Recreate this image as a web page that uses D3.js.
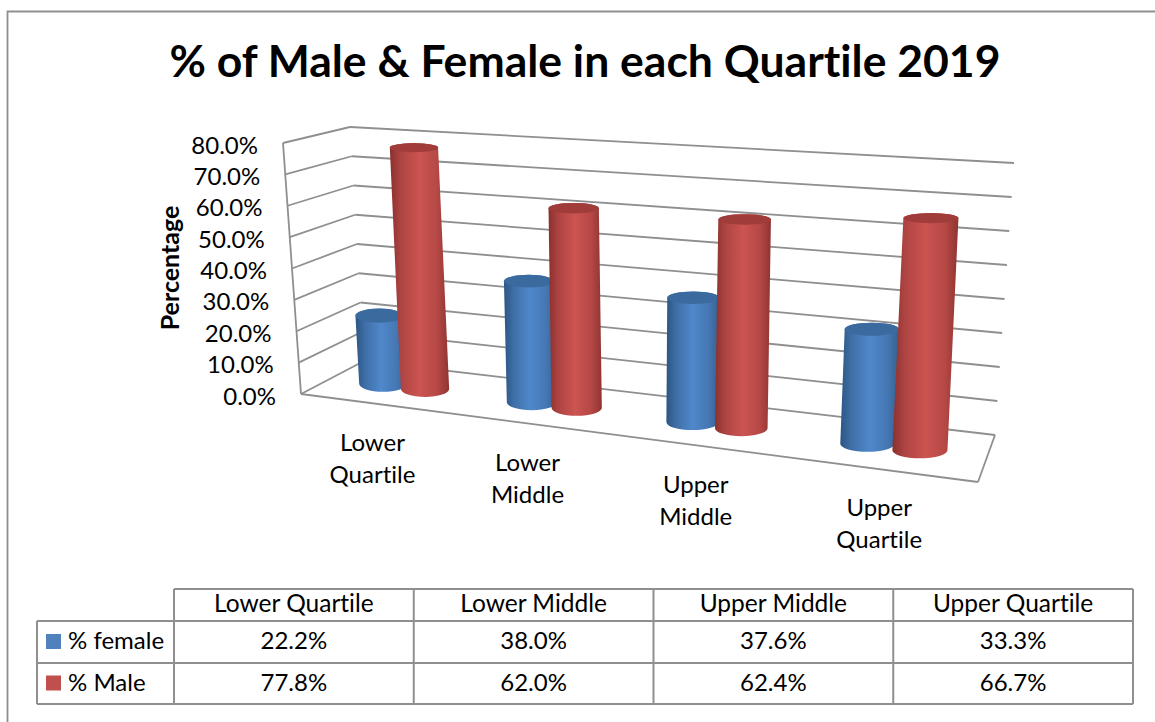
<!DOCTYPE html>
<html>
<head>
<meta charset="utf-8">
<script src="https://cdn.jsdelivr.net/npm/d3@7"></script>
<style>
  html, body { margin: 0; padding: 0; background: #fff; }
  svg { display: block; }
  text { font-family: Lato, "Open Sans", sans-serif; fill: #000; font-variant-ligatures: none; }
</style>
</head>
<body>
<svg id="chart" width="1155" height="722"></svg>
<script>
const categories = ['Lower Quartile', 'Lower Middle', 'Upper Middle', 'Upper Quartile'];
const seriesNames = ['% female', '% Male'];
const female = [22.2, 38.0, 37.6, 33.3];
const male = [77.8, 62.0, 62.4, 66.7];
const yTicks = [0, 10, 20, 30, 40, 50, 60, 70, 80];
const seriesValues = [female, male];

const gridColour = '#8f8f8f';
const svg = d3.select('#chart');
const fmt = d => d.toFixed(1) + '%';

// corners of the 3d box as they land on the page
const corners = {
  floor: { fl: [301, 394], fr: [978, 482], bl: [364, 361], br: [995, 435] },
  top: { fl: [283, 143], fr: [992, 189], bl: [350, 127], br: [1014, 163] }
};

const lerp = (a, b, t) => [a[0] + (b[0] - a[0]) * t, a[1] + (b[1] - a[1]) * t];
const yScale = d3.scaleLinear().domain([0, 80]).range([0, 1]);
// foreshortening along the category axis
const warp = d3.scaleLinear()
  .domain([0, 0.125, 0.375, 0.625, 0.875, 1])
  .range([0, 0.1085, 0.3376, 0.586, 0.857, 1]);
const xCat = d3.scaleBand().domain(categories).range([0, 1]);
const xSeries = d3.scaleBand().domain(seriesNames).range([-0.072, 0.072]);
const radius = d3.scaleLinear().domain([0, 1]).range([23.5, 28]);
const capRy = d3.scaleLinear().domain([0, 80]).range([8, 4.5]);

const project = (u, v, z) => {
  const level = c => lerp(lerp(c.fl, c.fr, u), lerp(c.bl, c.br, u), z);
  return lerp(level(corners.floor), level(corners.top), yScale(v));
};

// gradients for the cylinders
const defs = svg.append('defs');
const gradient = (id, stops) => {
  const g = defs.append('linearGradient').attr('id', id);
  stops.forEach(s => g.append('stop').attr('offset', s[0]).attr('stop-color', s[1]));
};
gradient('bar0', [[0, '#2c5583'], [0.18, '#3e6ea6'], [0.5, '#5088cb'], [0.8, '#4577b3'], [1, '#34618f']]);
gradient('bar1', [[0, '#8a302e'], [0.18, '#ad4442'], [0.5, '#cc5451'], [0.8, '#b54845'], [1, '#8f3432']]);
const capColours = ['#3b6a9f', '#a03d3b'];

const plot = svg.append('g');

const line = (g, a, b, w) => g.append('line')
  .attr('x1', a[0]).attr('y1', a[1]).attr('x2', b[0]).attr('y2', b[1])
  .attr('stroke', gridColour).attr('stroke-width', w || 1.8);

// outer frame
svg.append('path')
  .attr('d', `M1155,11.5H7.5V722`)
  .attr('fill', 'none').attr('stroke', gridColour).attr('stroke-width', 1.8);

// walls and floor
yTicks.forEach(v => {
  line(plot, project(0, v, 0), project(0, v, 1));
  line(plot, project(0, v, 1), project(1, v, 1));
});
line(plot, project(0, 0, 0), project(0, 80, 0));
line(plot, project(0, 0, 0), project(1, 0, 0));
line(plot, project(1, 0, 0), project(1, 0, 1));

// cylinders, female first so male sits in front
categories.forEach((cat, i) => {
  seriesNames.forEach((name, s) => {
    const value = seriesValues[s][i];
    const u = warp(xCat(cat) + xCat.bandwidth() / 2 + xSeries(name) + xSeries.bandwidth() / 2);
    const base = project(u, 0, 0.5);
    const top = project(u, value, 0.5);
    const r = radius(u);
    const ryB = capRy(0), ryT = capRy(value);
    plot.append('path')
      .attr('d', `M${top[0] - r},${top[1]}L${base[0] - r},${base[1]}` +
        `A${r},${ryB} 0 0 0 ${base[0] + r},${base[1]}` +
        `L${top[0] + r},${top[1]}` +
        `A${r},${ryT} 0 0 0 ${top[0] - r},${top[1]}Z`)
      .attr('fill', `url(#bar${s})`);
    plot.append('ellipse')
      .attr('cx', top[0]).attr('cy', top[1]).attr('rx', r).attr('ry', ryT)
      .attr('fill', capColours[s]);
  });
});

// title
svg.append('text')
  .attr('x', 585).attr('y', 77).attr('text-anchor', 'middle')
  .attr('font-size', 44.5).attr('font-weight', 700)
  .text('% of Male & Female in each Quartile 2019');

// y tick labels follow the front edge of the wall
yTicks.forEach(v => {
  const p = project(0, v, 0);
  svg.append('text')
    .attr('x', p[0] - 25).attr('y', p[1] + 4.5).attr('text-anchor', 'end')
    .attr('dominant-baseline', 'middle').attr('font-size', 24)
    .text(fmt(v));
});

svg.append('text')
  .attr('transform', 'translate(179,268) rotate(-90)')
  .attr('text-anchor', 'middle').attr('font-size', 25).attr('font-weight', 700)
  .text('Percentage');

// category labels, wrapped on two lines
categories.forEach(cat => {
  const p = project(warp(xCat(cat) + xCat.bandwidth() / 2), 0, 0);
  cat.split(' ').forEach((word, k) => {
    svg.append('text')
      .attr('x', p[0] - 2).attr('y', p[1] + 41 + k * 32)
      .attr('text-anchor', 'middle').attr('dominant-baseline', 'middle')
      .attr('font-size', 24)
      .text(word);
  });
});

// data table
const tableX = d3.scalePoint().domain(d3.range(5)).range([174, 1133]);
const rowY = [589, 621, 663, 704];
const table = svg.append('g');
rowY.forEach((y, r) => line(table, [r === 0 ? 174 : 37, y], [1133, y], 2));
d3.range(5).forEach(c => line(table, [tableX(c), 589], [tableX(c), 704], 2));
line(table, [37, 621], [37, 704], 2);

categories.forEach((cat, c) => {
  const cx = (tableX(c) + tableX(c + 1)) / 2;
  table.append('text')
    .attr('x', cx).attr('y', (rowY[0] + rowY[1]) / 2 + 1)
    .attr('text-anchor', 'middle').attr('dominant-baseline', 'middle').attr('font-size', 24.5)
    .text(cat);
  seriesValues.forEach((vals, s) => {
    table.append('text')
      .attr('x', cx).attr('y', (rowY[s + 1] + rowY[s + 2]) / 2 + 1)
      .attr('text-anchor', 'middle').attr('dominant-baseline', 'middle').attr('font-size', 24)
      .text(fmt(vals[c]));
  });
});

const legendColours = ['#4f81bd', '#c0504d'];
seriesNames.forEach((name, s) => {
  const cy = (rowY[s + 1] + rowY[s + 2]) / 2;
  table.append('rect')
    .attr('x', 46).attr('y', cy - 8).attr('width', 15).attr('height', 15)
    .attr('fill', legendColours[s]);
  table.append('text')
    .attr('x', 68).attr('y', cy + 1)
    .attr('dominant-baseline', 'middle').attr('font-size', 24)
    .text(name);
});
</script>
</body>
</html>
